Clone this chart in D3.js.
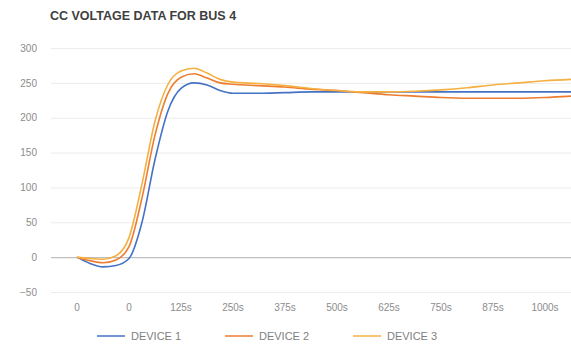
<!DOCTYPE html>
<html><head><meta charset="utf-8">
<script src="https://cdn.jsdelivr.net/npm/d3@7"></script>
<style>body{margin:0;background:#fff}svg{display:block}text{font-family:"Liberation Sans",Arial,sans-serif}</style>
</head><body><svg id="c" width="571" height="345"></svg>
<script>
const title = "CC VOLTAGE DATA FOR BUS 4";
const tickLabels = ["0","0","125s","250s","375s","500s","625s","750s","875s","1000s"];
const yTicks = [-50,0,50,100,150,200,250,300];
const seriesNames = ["DEVICE 1","DEVICE 2","DEVICE 3"];
const colors = ["#4472c4","#ed7d31","#f5b041"];
// x positions in category units (0 = first label)
const xs = [0,0.25,0.5,0.75,1,1.25,1.5,1.75,2,2.25,2.5,2.75,3,3.5,4,4.5,5,5.5,6,6.5,7,7.5,8,8.5,9,9.5];
const device1 = [0,-9,-14,-12,-2,50,140,210,242,250,247,239,235,235,236,237,237,237,237,237,237,237,237,237,237,237];
const device2 = [0,-5,-8,-4,15,85,175,235,258,263,257,250,248,246,244,241,239,236,233,231,229,228,228,228,229,231];
const device3 = [0,-2,-3,2,28,105,195,248,267,271,264,255,251,249,246,242,239,237,237,238,240,243,247,250,253,255];
const series = [device1, device2, device3];

(function(){
const svg = d3.select("#c");
const mLeft = 51, mRight = 571, mTop = 48, mBottom = 292;
const band = d3.scaleBand().domain(tickLabels.map((d,i)=>i)).range([mLeft,mRight]);
const x = d3.scaleLinear().domain([-0.5, tickLabels.length-0.5]).range([mLeft,mRight]);
const y = d3.scaleLinear().domain([-50,300]).range([mBottom, mTop]);

svg.append("text").attr("x",50).attr("y",20).attr("font-size",12.5).attr("font-weight","bold")
  .attr("fill","#404040").text(title);

const ga = svg.append("g").attr("transform",`translate(${mLeft},0)`)
  .call(d3.axisLeft(y).tickValues(yTicks).tickSize(-(mRight-mLeft)).tickPadding(14));
ga.select(".domain").remove();
ga.selectAll(".tick line").attr("stroke", d=> d===0 ? "#bfbfbf" : "#ececec").attr("stroke-width", d=>d===0?1.2:1);
ga.selectAll(".tick text").attr("fill","#8c8c8c").attr("font-size",10);

const gx = svg.append("g").attr("transform",`translate(0,${mBottom+8})`)
  .call(d3.axisBottom(band).tickFormat(i=>tickLabels[i]).tickSize(0).tickPadding(4));
gx.select(".domain").remove();
gx.selectAll(".tick text").attr("fill","#8c8c8c").attr("font-size",10);

const line = d3.line().x((d,i)=>x(xs[i])).y(d=>y(d)).curve(d3.curveMonotoneX);
series.forEach((s,k)=>{
  svg.append("path").datum(s).attr("d",line).attr("fill","none")
    .attr("stroke",colors[k]).attr("stroke-width",1.6);
});

const lg = svg.append("g");
seriesNames.forEach((n,k)=>{
  const x0 = 97 + k*128;
  lg.append("line").attr("x1",x0).attr("x2",x0+28).attr("y1",336).attr("y2",336)
    .attr("stroke",colors[k]).attr("stroke-width",1.5);
  lg.append("text").attr("x",x0+34).attr("y",340).attr("font-size",11)
    .attr("fill","#7f7f7f").text(n);
});
})();
</script></body></html>
